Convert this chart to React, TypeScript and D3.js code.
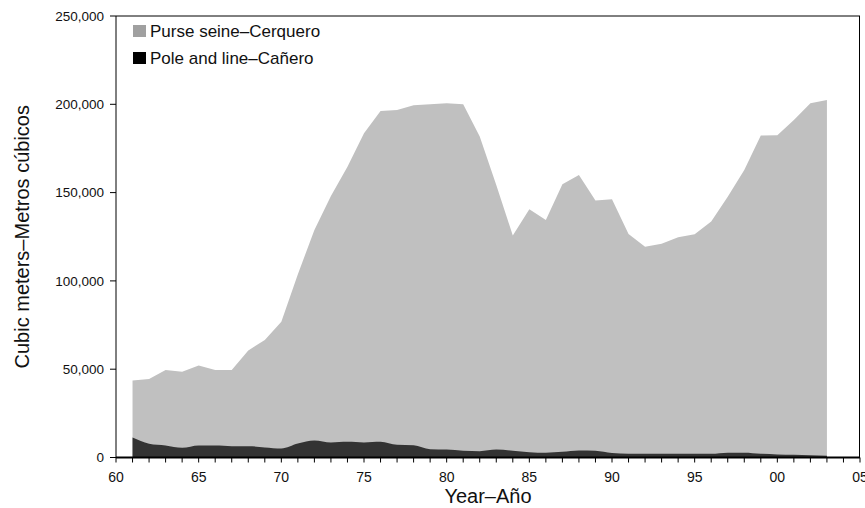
import React from "react";
import * as d3 from "d3";

const years: number[] = d3.range(1961, 2004);
// Cubic meters
const purseSeine: number[] = [
  32300, 36600, 42800, 43000, 45300, 42800, 43200, 54200, 60900, 71700,
  95900, 119200, 139600, 155800, 175100, 187300, 189600, 192400, 195300, 196100,
  196200, 178100, 149800, 121900, 137600, 131800, 151500, 156000, 141700, 143700,
  124500, 117300, 118900, 122600, 124300, 131500, 145000, 160100, 180200, 180800,
  189600, 199300, 201500,
];
const poleAndLine: number[] = [
  11300, 7800, 6800, 5500, 6800, 6800, 6400, 6400, 5700, 5100,
  7900, 9600, 8500, 8900, 8500, 8900, 7200, 7000, 4700, 4500,
  3800, 3600, 4500, 3800, 3000, 2700, 3200, 4000, 3800, 2500,
  2100, 2100, 2100, 2100, 2100, 2100, 2700, 2700, 2100, 1700,
  1500, 1300, 1000,
];
const yTicks: number[] = [0, 50000, 100000, 150000, 200000, 250000];
const xLabelYears: number[] = [1960, 1965, 1970, 1975, 1980, 1985, 1990, 1995, 2000, 2005];
const seriesNames: string[] = ["Purse seine\u2013Cerquero", "Pole and line\u2013Ca\u00f1ero"];

const W = 865;
const H = 508;
const left = 116;
const right = 860;
const top = 16;
const bottom = 457.5;
const font = "'Liberation Sans', Arial, Helvetica, sans-serif";

export default function App() {
  const x = d3.scaleLinear().domain([1960, 2005]).range([left, right]);
  const y = d3.scaleLinear().domain([0, 250000]).range([bottom, top]);

  const rows = years.map((yr, i) => ({ year: yr, pole: poleAndLine[i], purse: purseSeine[i] }));
  const stack = d3.stack<any>().keys(["pole", "purse"]);
  const stacked = stack(rows);
  const totalTop = stacked[1];

  const areaTotal = d3
    .area<any>()
    .x((d) => x(d.data.year))
    .y0(() => y(0))
    .y1((d) => y(d[1]))
    .curve(d3.curveLinear);
  const areaPole = d3
    .area<any>()
    .x((d) => x(d.data.year))
    .y0(() => y(0))
    .y1((d) => y(d[1]))
    .curve(d3.curveMonotoneX);

  const allYears = d3.range(1960, 2006);
  const fmt = d3.format(",");

  return (
    <svg width={W} height={H} style={{ position: "absolute", left: 0, top: 0 }} fontFamily={font}>
      <rect x={0} y={0} width={W} height={H} fill="#ffffff" />
      <path d={areaTotal(totalTop) || ""} fill="#c0c0c0" />
      <path d={areaPole(stacked[0]) || ""} fill="#333333" />

      {/* frame */}
      <line x1={left} x2={left} y1={top} y2={bottom} stroke="#000" strokeWidth={1} />
      <line x1={left} x2={right} y1={top} y2={top} stroke="#000" strokeWidth={1} />
      <line x1={right - 0.5} x2={right - 0.5} y1={top} y2={bottom} stroke="#000" strokeWidth={1} />
      <line x1={left} x2={right} y1={bottom} y2={bottom} stroke="#000" strokeWidth={2} />

      {/* y axis */}
      {yTicks.map((t) => (
        <g key={t}>
          <line x1={left - 6} x2={left} y1={y(t)} y2={y(t)} stroke="#000" strokeWidth={1} />
          <text x={104} y={y(t)} dy="0.35em" textAnchor="end" fontSize={13.5} fill="#111">
            {fmt(t)}
          </text>
        </g>
      ))}

      {/* x axis */}
      {allYears.map((yr) => (
        <line key={yr} x1={x(yr)} x2={x(yr)} y1={bottom} y2={bottom + 5} stroke="#000" strokeWidth={1} />
      ))}
      {xLabelYears.map((yr) => (
        <text key={yr} x={x(yr)} y={482} textAnchor="middle" fontSize={14} fill="#111">
          {String(yr % 100).padStart(2, "0")}
        </text>
      ))}

      {/* titles */}
      <text x={488} y={503} textAnchor="middle" fontSize={20} fill="#111">
        Year–Año
      </text>
      <text transform={`translate(29, ${(top + bottom) / 2}) rotate(-90)`} textAnchor="middle" fontSize={20} fill="#111">
        Cubic meters–Metros cúbicos
      </text>

      {/* legend */}
      <rect x={133} y={25} width={13} height={12} fill="#a0a0a0" />
      <text x={150} y={37} fontSize={17} fill="#111">{seriesNames[0]}</text>
      <rect x={133} y={52} width={13} height={12} fill="#000" />
      <text x={150} y={64} fontSize={17} fill="#111">{seriesNames[1]}</text>
    </svg>
  );
}
